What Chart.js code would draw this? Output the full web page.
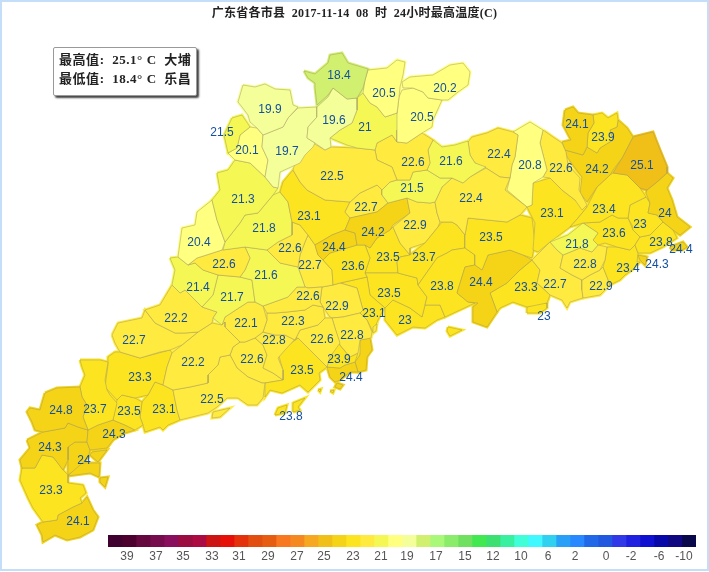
<!DOCTYPE html>
<html>
<head>
<meta charset="utf-8">
<title>广东省各市县 24小时最高温度</title>
<script src="https://cdn.jsdelivr.net/npm/chart.js@4"></script>
<style>
  html, body { margin: 0; padding: 0; background: #fff; }
  #frame { position: absolute; left: 0; top: 0; width: 705px; height: 567px; border: 2px solid #c4defa; }
  #map { position: absolute; left: 0; top: 0; }
  #bar { position: absolute; left: 108px; top: 535px; }
  #title { position: absolute; left: 0; top: 6px; width: 709px; text-align: center; white-space: pre;
    font: bold 12px "Liberation Serif", "Noto Sans CJK SC", serif; letter-spacing: .25px; color: #222; line-height: 15px; }
  #info { position: absolute; left: 53px; top: 47px; width: 142px; height: 47px; background: #fff;
    border: 1px solid #999; border-radius: 2px; box-shadow: 2px 2px 2px #444; }
  #info div { position: absolute; left: 5px; white-space: pre; letter-spacing: .55px;
    font: bold 13px "Liberation Serif", "Noto Sans CJK SC", serif; color: #222; line-height: 18px; }
</style>
</head>
<body>
<div id="frame"></div>
<canvas id="map" width="709" height="572"></canvas>
<canvas id="bar" width="588" height="34"></canvas>
<div id="title">广东省各市县  2017-11-14  08  时  24小时最高温度(C)</div>
<div id="info"><div style="top:3px">最高值:  25.1° C  大埔</div><div style="top:22px">最低值:  18.4° C  乐昌</div></div>
<script>
// colour bar
const legendColors = ['#400030','#4d0030','#660840','#760c4e','#8a0e5e','#9b0c40','#ac0a42','#cc1414','#e61008','#e5300c','#e24e10','#e65c10','#f87820','#f68820','#f5a820','#f0c018','#f5d418','#fce420','#ffea40','#f5f854','#ffff80','#f5ff99','#d2f070','#aaf878','#8aec6a','#70e060','#42e850','#3ce070','#38f0a0','#40ffd8','#40f8ff','#30d0f0','#28a0f8','#2888ff','#2068e8','#2058e0','#3038e8','#2020e0','#1010d0','#0808a8','#100880','#08084a'];
const legendLabels = ['39','37','35','33','31','29','27','25','23','21','19','17','15','12','10','6','2','0','-2','-6','-10'];
const legendTickCells = [1.36,3.43,5.36,7.43,9.36,11.43,13.5,15.43,17.5,19.5,21.36,23.43,25.5,27.5,29.5,31.43,33.36,35.57,37.36,39.36,41.14];

// county values and where each value is written, in map units
const countyValues = [18.4,19.9,19.6,19.7,20.5,20.2,20.5,21,22.5,22.6,21.6,21.5,22.4,22.4,20.8,22.6,24.1,23.9,24.2,25.1,23.4,24,23,23.8,24.4,24.3,21.8,23.6,22.8,23.4,22.9,22.7,23.1,23.5,24.4,23.3,23,23.8,23.7,22.9,24.2,24.4,22.7,23.1,21.5,20.1,21.3,20.4,21.8,22.6,22.6,21.6,21.4,21.7,22.2,22.7,22.2,22.1,22.6,22.3,22.8,22.6,22.5,23.5,22.6,22.8,23.9,24.4,23.6,22.7,22.9,23.1,23.5,23,23.5,24.8,23.7,23.3,23.5,23.1,24.3,24.3,24,23.3,24.1,23.8];
const labelX = [339,270,334,287,384,445,422,365,332,413,451,412,471,499,530,561,577,603,597,642,604,665,640,661,681,657,577,614,585,628,601,555,552,491,481,526,544,442,424,415,373,334,366,309,222,247,243,199,264,290,224,266,198,232,176,134,193,246,308,293,274,322,212,302,252,352,339,351,353,310,337,374,389,405,388,61,95,140,129,164,114,50,84,51,78,291];
const labelY = [76,110,121,152,94,89,118,128,177,163,162,189,199,155,166,169,125,138,170,166,210,214,225,243,250,265,245,234,265,269,287,285,214,238,283,288,317,287,258,226,233,248,208,217,133,151,200,243,229,249,265,276,288,298,319,341,363,324,297,322,341,340,400,371,360,336,360,378,267,266,307,314,294,321,258,411,410,378,412,410,435,448,461,491,522,417];

// county outlines, one list of rings per county, x,y,x,y...
const countyOutlines = [
  [[304,71,315,74,328,63,330,55,342,53,348,63,368,69,363,88,357,98,347,99,333,88,328,95,317,105,315,88,315,83,308,78]],
  [[243,85,255,87,265,84,275,89,290,90,293,105,298,107,288,118,283,127,263,135,257,128,250,122,248,115,242,107,238,102]],
  [[317,107,328,97,333,88,347,99,357,98,357,110,352,123,340,130,330,138,331,147,325,150,315,143,307,138,308,127,317,117]],
  [[263,135,283,127,288,118,298,108,317,107,317,117,308,127,307,138,315,143,313,147,305,155,300,163,280,172,278,188,273,187,265,177,268,160,262,147]],
  [[365,80,368,70,387,68,397,60,405,62,403,75,400,87,399,97,397,113,385,117,377,107,370,103,363,93]],
  [[403,88,402,82,410,77,433,75,450,65,463,63,470,72,468,85,458,92,448,100,442,100,428,98,423,92,413,88]],
  [[399,97,402,90,413,88,423,92,428,98,442,100,433,120,432,127,422,133,407,143,397,142,397,115]],
  [[357,98,363,93,370,103,377,107,385,117,397,113,403,123,397,130,397,142,392,135,377,143,375,150,357,148,347,145,330,138,340,130,352,123,357,110]],
  [[303,155,313,143,325,150,331,147,357,148,375,150,377,160,392,167,397,180,390,182,382,190,377,185,360,193,350,202,325,200,307,190,300,182,293,170,295,163]],
  [[377,143,392,135,397,142,407,143,422,133,433,140,428,150,430,163,427,170,413,172,410,180,397,180,392,167,377,160,375,150]],
  [[433,140,442,147,455,145,468,141,470,155,475,163,486,167,470,177,463,183,452,178,440,178,427,170,430,163,428,150]],
  [[382,190,390,182,397,180,410,180,413,172,427,170,440,178,452,178,442,187,435,202,430,203,417,202,407,198,388,203,382,195]],
  [[442,187,452,178,463,183,470,177,486,168,500,177,510,178,505,190,527,207,520,215,507,222,468,218,465,235,457,225,452,222,440,222,437,213,435,202]],
  [[468,142,472,137,487,133,498,128,513,132,518,135,515,157,512,165,510,178,500,177,486,168,475,163,470,155]],
  [[513,132,530,122,543,130,540,143,547,170,543,177,533,183,532,205,527,207,507,190,510,178,512,165,515,157,518,135]],
  [[543,130,553,137,562,143,566,152,568,165,580,178,579,190,587,205,582,210,575,200,562,190,550,178,543,177,547,170,540,143]],
  [[565,110,573,107,578,113,593,115,594,123,588,133,587,147,583,155,565,150,562,142,571,140,563,125]],
  [[593,115,602,113,608,118,617,113,618,120,617,127,610,130,613,140,600,148,597,153,587,147,588,133,594,123]],
  [[565,150,583,155,587,147,597,153,600,148,613,140,610,130,617,127,618,120,627,128,633,137,622,158,613,170,610,175,597,187,587,202,580,193,582,177,567,157]],
  [[633,137,653,132,656,140,660,150,667,167,667,173,657,182,647,190,640,188,627,175,613,173,622,158]],
  [[597,187,610,175,613,173,627,175,640,188,646,197,630,205,628,218,618,218,612,215,600,222,583,223,570,227,578,218,587,207]],
  [[667,173,673,178,667,188,672,200,677,217,690,227,680,235,673,230,663,222,657,215,648,213,650,203,646,193,647,190,657,182]],
  [[646,197,650,203,648,213,657,215,663,222,655,230,650,235,640,237,633,230,632,225,628,218,630,205]],
  [[640,237,650,235,655,230,663,222,673,230,677,238,663,247,650,253,638,253,635,245]],
  [[670,247,683,242,687,247,682,250,672,250]],
  [[638,255,647,257,645,265,640,260]],
  [[550,242,568,235,583,223,598,233,593,240,598,245,592,252,580,248,563,255,557,250]],
  [[600,222,612,215,618,218,628,218,633,230,640,237,635,245,630,250,617,247,605,243,598,245,593,240,598,233,583,223]],
  [[563,255,580,248,592,252,598,245,607,247,605,260,600,270,590,275,582,280,572,275,560,268]],
  [[607,247,617,247,630,250,635,245,638,253,637,262,640,262,632,270,625,275,620,280,610,285,607,277,603,267,605,260]],
  [[582,280,590,275,600,270,603,267,607,277,610,285,600,295,583,298,582,290]],
  [[532,260,540,252,550,242,557,250,563,255,560,268,572,275,582,280,582,290,583,298,570,302,567,308,562,300,550,295,545,290,537,283,540,270]],
  [[533,183,550,178,562,190,575,200,587,207,578,218,570,227,550,242,538,252,533,250,535,223,527,207,532,205]],
  [[465,235,468,218,507,222,520,215,532,218,535,243,532,258,523,255,510,250,488,255,482,270,475,265,475,255,465,248]],
  [[457,293,465,267,475,265,482,270,488,255,510,250,523,255,532,260,520,270,507,283,490,293,497,312,487,327,473,322,473,307,478,303,468,302]],
  [[490,293,507,283,520,270,532,260,540,270,537,283,550,295,547,303,527,307,513,302,500,308,497,312]],
  [[527,313,527,307,535,304,547,303,547,308,540,313]],
  [[418,285,437,258,447,253,452,250,465,248,475,255,475,265,465,267,457,293,468,302,475,303,460,310,445,317,440,305,425,305,427,297],[448,327,462,330,450,336,447,331]],
  [[410,255,425,243,438,227,442,222,452,222,457,225,465,235,465,248,452,250,447,253,437,258,418,285,417,278,398,273,397,262,400,257]],
  [[410,213,407,198,417,202,430,203,435,202,437,213,440,222,438,227,425,243,410,248,410,255,400,243,393,227]],
  [[345,230,350,218,377,212,388,203,407,198,410,213,393,225,390,230,377,238,370,248,365,245,357,245,355,233]],
  [[315,245,332,235,345,230,355,233,357,245,347,248,330,253,323,260,318,255]],
  [[350,202,360,193,377,185,382,190,382,195,388,203,377,212,350,218,345,212]],
  [[280,192,283,182,293,170,300,182,307,190,325,200,350,202,345,212,350,218,345,230,332,235,315,245,308,235,300,225,292,222,288,202]],
  [[232,118,242,115,250,127,240,135,237,148,228,153,224,135]],
  [[250,127,257,128,263,135,262,147,268,160,265,177,250,163,235,160,228,153,237,148,240,135]],
  [[217,173,228,170,235,160,250,163,265,177,273,187,278,188,273,195,258,213,245,215,240,223,225,242,217,220,212,200,220,190]],
  [[225,242,217,220,212,200,197,212,195,225,182,228,178,257,188,265,197,258,222,250]],
  [[273,195,280,192,288,202,292,222,292,235,278,242,267,250,245,247,223,250,225,242,240,223,245,215,258,213]],
  [[292,222,300,225,308,235,305,242,300,255,298,267,280,263,267,250,278,242,292,235]],
  [[188,265,197,258,222,250,245,247,250,258,245,270,240,277,218,275,203,270,195,263]],
  [[245,247,267,250,280,263,298,267,305,287,297,287,288,297,263,306,255,302,252,280,240,277,245,270,250,258]],
  [[170,258,178,257,188,265,195,263,203,270,218,275,215,287,213,295,202,307,185,290,180,293,172,285,175,270]],
  [[218,275,240,277,252,280,255,302,248,302,225,317,222,325,213,318,217,312,202,307,213,295,215,287]],
  [[172,285,180,293,185,290,202,307,217,312,213,318,212,323,198,332,185,333,175,333,165,328,155,323,145,310,160,305]],
  [[112,335,118,323,142,318,145,310,155,323,165,328,175,333,185,333,198,332,182,345,170,350,160,352,140,358,120,352,115,343]],
  [[212,323,222,325,225,322,225,327,240,342,233,347,230,355,220,357,218,365,208,375,208,383,190,387,173,390,163,385,167,367,172,353,182,345,198,332]],
  [[225,317,248,302,255,302,263,306,265,313,267,320,263,332,255,338,245,342,240,342,225,327,222,325]],
  [[263,306,288,297,297,287,305,287,308,288,322,287,320,302,323,307,313,305,305,310,287,312,275,313,267,313]],
  [[267,313,275,313,287,312,305,310,313,305,323,307,325,318,318,325,300,330,295,340,285,335,275,335,263,332,267,320]],
  [[263,332,275,335,285,335,295,340,297,337,285,350,278,358,283,370,283,380,273,373,263,368,267,355,263,345,255,338]],
  [[300,330,318,325,325,318,332,318,335,328,340,343,330,357,327,367,313,353,298,338,295,340]],
  [[230,355,237,368,248,377,262,383,265,383,263,398,257,405,248,405,238,398,227,398,217,407,208,413,180,420,177,410,173,390,190,387,208,383,208,375,218,365,220,357],[213,412,230,408,220,417,212,418]],
  [[278,353,298,338,313,353,327,367,319,373,320,380,308,392,300,385,282,393,270,390,265,397,265,383,283,380,283,370],[318,390,321,389,320,392],[330,391,334,390,333,393]],
  [[233,347,240,342,245,342,255,338,263,345,267,355,263,368,273,373,283,380,265,383,262,383,248,377,237,368,230,355]],
  [[332,318,343,317,360,313,367,320,372,332,371,338,360,340,358,353,350,357,340,345,335,328],[373,327,377,324,376,331,373,333]],
  [[330,353,338,343,350,357,358,353,355,362,345,365,340,368,327,367]],
  [[327,367,340,368,345,365,355,362,358,372,350,372,340,380,335,382,330,377],[337,383,343,385,340,389,335,387],[360,340,370,338,372,350,367,357,366,370,358,372,355,362,360,355]],
  [[330,253,347,248,357,245,365,245,370,258,365,273,367,277,340,283,333,285,332,270,323,260]],
  [[308,235,315,245,318,255,323,260,332,270,333,285,322,287,308,288,305,287,298,267,300,255,305,242]],
  [[322,287,333,285,340,283,357,288,363,310,360,313,343,317,332,318,330,317,323,307,320,302]],
  [[340,283,367,277,370,295,385,308,382,312,378,320,373,332,367,320,360,313,363,310,357,288]],
  [[365,273,380,273,390,273,398,273,417,278,418,285,427,297,425,305,422,317,410,308,393,300,385,308,370,295,367,277]],
  [[385,308,393,300,410,308,422,317,425,305,440,305,445,317,437,320,425,328,413,327,397,335,385,320]],
  [[370,248,377,238,390,230,393,227,400,243,410,255,400,257,397,262,398,273,365,273,370,258,365,245]],
  [[45,393,57,388,80,387,82,397,87,405,83,417,88,430,78,427,68,423,65,428,43,432,35,430,32,422,27,412,30,408,40,410]],
  [[80,360,90,360,100,360,108,362,105,380,107,390,110,395,117,403,113,420,98,425,88,430,83,417,87,405,82,397,80,387,85,375,82,367]],
  [[108,365,108,357,115,352,120,352,140,358,170,350,172,353,167,367,163,385,155,382,148,395,135,398,122,395,117,400,105,387]],
  [[117,400,122,395,135,398,142,402,140,417,143,425,135,430,125,425,113,420]],
  [[142,402,148,395,155,382,163,385,173,390,177,410,180,420,168,425,163,430,160,427,145,432,143,425,140,417]],
  [[88,430,98,425,113,420,125,425,135,430,125,433,113,440,107,448,90,450,87,442]],
  [[27,440,43,432,65,428,68,423,78,427,88,430,87,442,75,442,68,447,68,460,63,470,57,462,53,457,42,455,35,468,22,468,20,460,30,448]],
  [[68,447,75,442,87,442,90,450,88,458,80,465,72,472,68,475,68,460],[92,452,107,450,98,462,90,455],[80,463,100,463,99,477,90,473,68,476,75,468],[100,478,108,477,105,487,100,482]],
  [[42,455,53,457,57,462,63,470,68,475,68,483,83,485,86,493,80,498,82,503,73,507,58,515,57,520,43,522,33,508,28,498,20,480,22,468,35,468]],
  [[58,515,73,507,82,503,87,497,93,510,98,517,93,530,80,537,67,540,55,535,43,542,42,535,37,525,43,522,57,520]],
  [[275,415,278,408,287,405,285,413],[293,412,293,403,305,398,298,407,300,410]]
];

// one degree per legend cell from 25 (cell 15) downwards
function colorFor(v) {
  return legendColors[15 + 25 - Math.floor(v)];
}

// first a fat stroke in the fill colour to close slivers between outlines, then the county itself
const underlay = [];
const counties = [];
countyOutlines.forEach(function (rings, i) {
  const color = colorFor(countyValues[i]);
  rings.forEach(function (ring) {
    const pts = [];
    for (let k = 0; k < ring.length; k += 2) pts.push({ x: ring[k], y: ring[k + 1] });
    pts.push(pts[0]);
    underlay.push({ data: pts, showLine: true, fill: false, borderColor: color, borderWidth: 3, pointRadius: 0, tension: 0 });
    counties.push({
      data: pts,
      showLine: true,
      fill: 'shape',
      backgroundColor: color,
      borderColor: 'rgba(165,155,95,0.5)',
      borderWidth: 1,
      pointRadius: 0,
      tension: 0
    });
  });
});

const valueLabels = {
  id: 'valueLabels',
  afterDatasetsDraw(chart) {
    const ctx = chart.ctx;
    ctx.save();
    ctx.font = '12px "Liberation Sans", Arial, sans-serif';
    ctx.fillStyle = '#1450a0';
    ctx.textAlign = 'center';
    ctx.textBaseline = 'middle';
    countyValues.forEach(function (v, i) {
      ctx.fillText(String(v), chart.scales.x.getPixelForValue(labelX[i]), chart.scales.y.getPixelForValue(labelY[i]));
    });
    ctx.restore();
  }
};

new Chart(document.getElementById('map'), {
  type: 'scatter',
  data: { datasets: counties.concat(underlay) },
  plugins: [valueLabels],
  options: {
    responsive: false,
    animation: false,
    layout: { padding: 0 },
    plugins: { legend: { display: false }, tooltip: { enabled: false } },
    scales: {
      x: { type: 'linear', min: 0, max: 709, display: false },
      y: { type: 'linear', min: 0, max: 572, reverse: true, display: false }
    }
  }
});

// colour bar, one stacked unit per cell
new Chart(document.getElementById('bar'), {
  type: 'bar',
  data: {
    labels: [''],
    datasets: legendColors.map(function (c) {
      return { data: [1], backgroundColor: c, stack: 's', barPercentage: 1, categoryPercentage: 1 };
    })
  },
  options: {
    indexAxis: 'y',
    responsive: false,
    animation: false,
    layout: { padding: { bottom: 4 } },
    plugins: { legend: { display: false }, tooltip: { enabled: false } },
    scales: {
      y: { display: false, stacked: true },
      x: {
        type: 'linear',
        min: 0,
        max: 42,
        stacked: true,
        grid: { display: false, drawTicks: false },
        border: { display: false },
        afterBuildTicks(scale) {
          scale.ticks = legendTickCells.map(function (v) { return { value: v }; });
        },
        afterFit(scale) { scale.height = 18; },
        ticks: {
          autoSkip: false,
          maxRotation: 0,
          padding: 2,
          color: '#555',
          font: { family: '"Liberation Sans", Arial, sans-serif', size: 12 },
          callback(value, index) { return legendLabels[index]; }
        }
      }
    }
  }
});
</script>
</body>
</html>
